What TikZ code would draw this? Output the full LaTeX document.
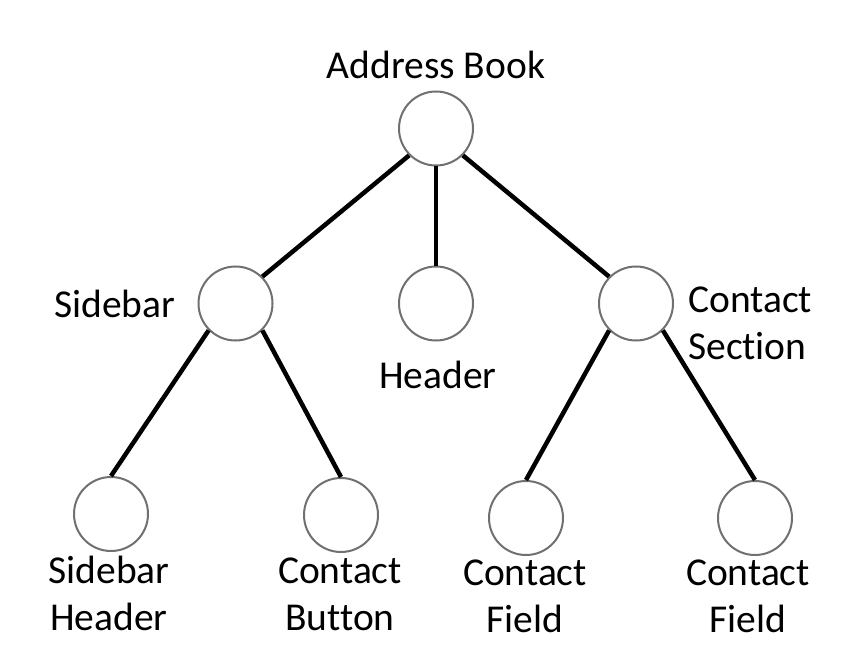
\documentclass[tikz,border=0pt]{standalone}
\usepackage{fontspec}
\setmainfont{Carlito}[Ligatures=NoCommon]
\usetikzlibrary{positioning}
\definecolor{rim}{HTML}{707070}
\tikzset{
  comp/.style={circle,draw=rim,line width=2pt,fill=white,minimum size=74pt,inner sep=0pt},
  link/.style={draw=black,line width=4.5pt},
  labelstyle/.style={font=\fontsize{39.5}{47}\selectfont,inner sep=0pt,align=center}
}
\begin{document}
\begin{tikzpicture}[x=1pt,y=-1pt,node distance=12pt]
  \useasboundingbox (0,0) rectangle (847,666);
  \node[comp] (ab) at (436,128.5) {};
  \node[comp] (sb) at (235.5,303.5) {};
  \node[comp] (hd) at (436,303.5) {};
  \node[comp] (cs) at (636,303.5) {};
  \node[comp] (sh) at (111,514) {};
  \node[comp] (cb) at (341,515) {};
  \node[comp] (cf) at (526,518) {};
  \node[comp] (cg) at (755,518) {};
  % labels
  \node[labelstyle,above=12pt of ab] (abl) {Address Book};
  \node[labelstyle,left=22pt of sb] (sbl) {Sidebar};
  \node[labelstyle,below=19pt of hd,xshift=2pt] (hdl) {Header};
  \node[labelstyle,align=left,right=14pt of cs,yshift=-20pt] (csl) {Contact\\Section};
  \node[labelstyle,below=4pt of sh,xshift=-2pt] (shl) {Sidebar\\Header};
  \node[labelstyle,below=5pt of cb,xshift=-1pt] (cbl) {Contact\\Button};
  \node[labelstyle,below=4pt of cf,xshift=-1pt] (cfl) {Contact\\Field};
  \node[labelstyle,below=4pt of cg,xshift=-7pt] (cgl) {Contact\\Field};
  % edges
  \draw[link] (ab.south west) -- (sb.north east);
  \draw[link] (ab.south) -- (hd.north);
  \draw[link] (ab.south east) -- (cs.north west);
  \draw[link] (sb.south west) -- (sh.north);
  \draw[link] (sb.south east) -- (cb.north);
  \draw[link] (cs.south west) -- (cf.north);
  \draw[link] (cs.south east) -- (cg.north);
\end{tikzpicture}
\end{document}
